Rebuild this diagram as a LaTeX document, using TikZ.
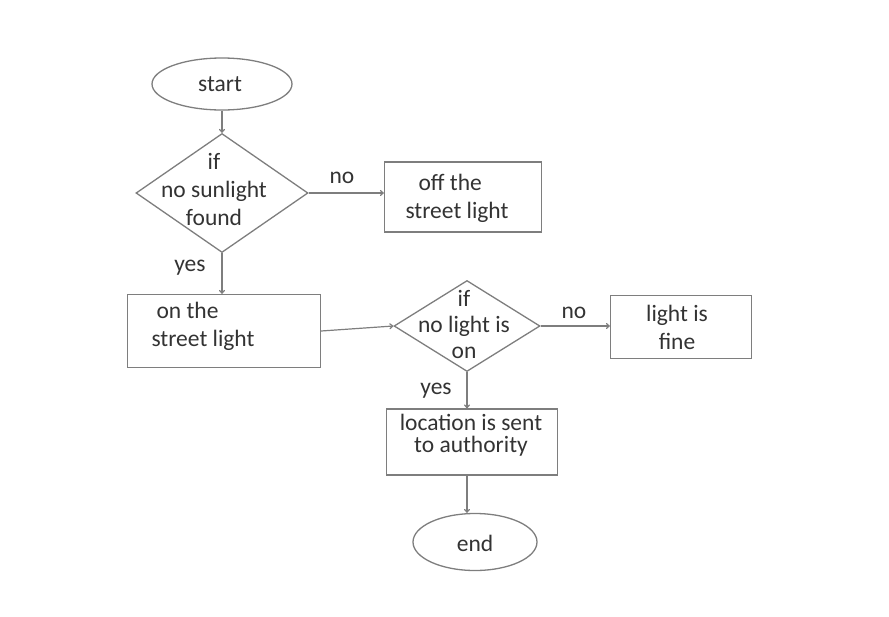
\documentclass[tikz,border=0pt]{standalone}
\usepackage{fontspec}
\setmainfont{Carlito}
\usetikzlibrary{shapes.geometric,arrows.meta}
\definecolor{ln}{HTML}{7E7E7E}
\definecolor{tx}{HTML}{333333}
\tikzset{
  every node/.style={text=tx, font=\fontsize{23.5}{28}\selectfont},
  box/.style={draw=ln, line width=1.3pt, rectangle, inner sep=0pt},
  oval/.style={draw=ln, line width=1.3pt, ellipse, inner sep=0pt},
  dia/.style={draw=ln, line width=1.3pt, diamond, inner sep=0pt},
  txt/.style={align=center, inner sep=0pt},
  lbl/.style={inner sep=0pt},
  conn/.style={draw=ln, line width=1.2pt, -{To[length=4pt,width=6pt]}}
}
\begin{document}
\begin{tikzpicture}[x=1pt,y=-1pt]
\useasboundingbox (0,0) rectangle (889,616);
% shapes
\node[oval, minimum width=140pt, minimum height=52pt] (start) at (222,84) {};
\node[dia, minimum width=172pt, minimum height=119pt] (d1) at (222,193) {};
\node[box, minimum width=157pt, minimum height=70pt] (off) at (463,197) {};
\node[box, minimum width=193pt, minimum height=73pt] (on) at (224,331) {};
\node[dia, minimum width=146pt, minimum height=91pt] (d2) at (467,326) {};
\node[box, minimum width=141pt, minimum height=63pt] (light) at (681,327) {};
\node[box, minimum width=171pt, minimum height=66pt] (loc) at (472,442) {};
\node[oval, minimum width=124pt, minimum height=57pt] (end) at (475,542) {};
% texts
\node[txt] (tstart) at (220,84) {start};
\node[txt] (td1) at (214,189) {if\\no sunlight\\found};
\node[txt, align=left] (toff) at (457,198) {\hspace*{13pt}off the\\street light};
\node[txt, align=left] (ton) at (203,326) {\hspace*{5pt}on the\\street light};
\node[txt, font=\fontsize{23.5}{26}\selectfont] (td2) at (464,324) {if\\no light is\\on};
\node[txt] (tlight) at (677,327) {light is\\fine};
\node[txt, font=\fontsize{23.5}{22}\selectfont] (tloc) at (471,435) {location is sent\\to authority};
\node[txt] (tend) at (475,543) {end};
% labels
\node[lbl] (no1) at (342,178) {no};
\node[lbl] (yes1) at (190,268) {yes};
\node[lbl] (no2) at (574,313) {no};
\node[lbl] (yes2) at (436,391) {yes};
% connectors
\draw[conn] (start.south) -- (d1.north);
\draw[conn] (d1.east) -- (d1.east -| off.west);
\draw[conn] (d1.south) -- (d1.south |- on.north);
\draw[conn] (on.east) -- (d2.west);
\draw[conn] (d2.east) -- (d2.east -| light.west);
\draw[conn] (d2.south) -- (d2.south |- loc.north);
\draw[conn] (d2.south |- loc.south) -- (d2.south |- end.north);
\end{tikzpicture}
\end{document}
